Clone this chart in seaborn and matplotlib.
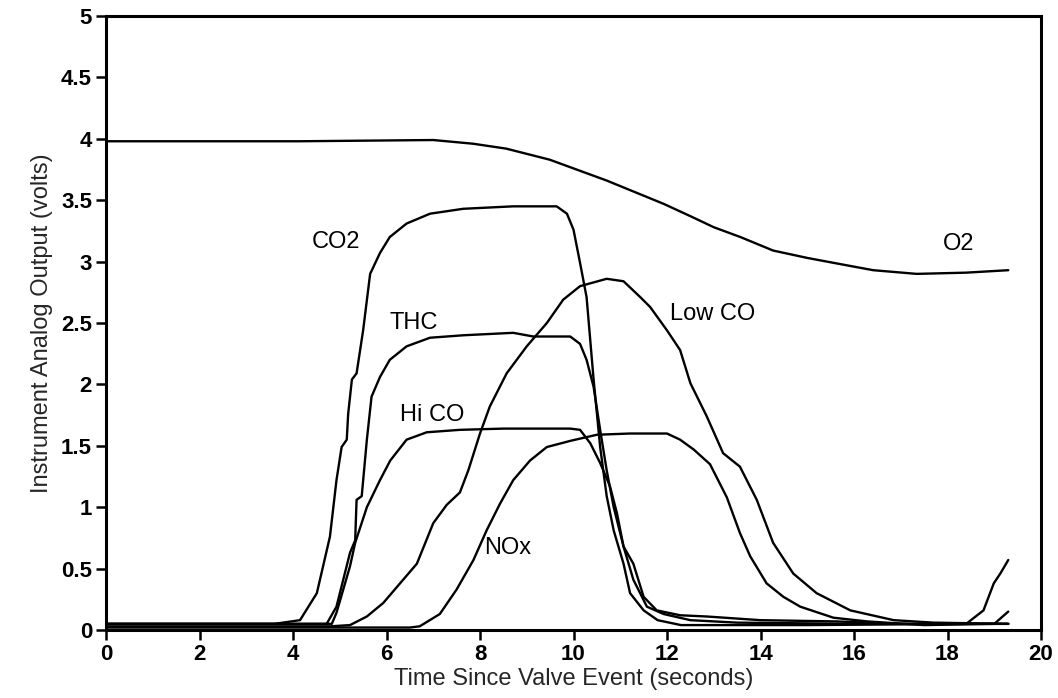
import matplotlib
matplotlib.use("Agg")
import matplotlib.pyplot as plt
import seaborn as sns
import pandas as pd

# ---- data ----
co2_t = [0, 3.6, 4.15, 4.51, 4.79, 4.93, 5.04, 5.15, 5.18, 5.26, 5.36, 5.5, 5.65, 5.86, 6.07, 6.43,
         6.93, 7.64, 8.71, 9.64, 9.86, 10.0, 10.14, 10.28, 10.43, 10.57, 10.71, 10.86, 11.07, 11.21,
         11.5, 11.8, 12.3, 15.0, 18.4, 18.77, 18.99, 19.13, 19.3]
co2_v = [0.05, 0.05, 0.08, 0.30, 0.76, 1.22, 1.49, 1.55, 1.76, 2.04, 2.09, 2.44, 2.90, 3.07, 3.20, 3.31,
         3.39, 3.43, 3.45, 3.45, 3.39, 3.26, 2.99, 2.71, 2.04, 1.49, 1.09, 0.81, 0.54, 0.30,
         0.16, 0.08, 0.04, 0.04, 0.05, 0.16, 0.38, 0.46, 0.57]

thc_t = [0, 4.6, 4.72, 4.93, 5.22, 5.33, 5.36, 5.47, 5.58, 5.68, 5.86, 6.07, 6.43, 6.93, 7.64, 8.71,
         9.14, 9.93, 10.14, 10.28, 10.43, 10.57, 10.71, 10.86, 11.07, 11.28, 11.5, 11.78, 12.28,
         12.85, 14.0, 15.6, 17.0, 19.3]
thc_v = [0.05, 0.05, 0.05, 0.19, 0.63, 0.73, 1.06, 1.09, 1.55, 1.90, 2.06, 2.20, 2.31, 2.38, 2.40, 2.42,
         2.39, 2.39, 2.33, 2.20, 1.98, 1.63, 1.30, 1.00, 0.68, 0.54, 0.27, 0.16, 0.12,
         0.11, 0.08, 0.07, 0.05, 0.05]

hico_t = [0, 4.7, 4.83, 4.93, 5.22, 5.33, 5.58, 5.86, 6.08, 6.43, 6.86, 7.57, 8.5, 9.93, 10.14,
          10.36, 10.57, 10.78, 10.93, 11.07, 11.28, 11.57, 11.93, 12.5, 13.5, 16.0, 19.3]
hico_v = [0.05, 0.05, 0.05, 0.14, 0.52, 0.71, 1.00, 1.22, 1.38, 1.55, 1.61, 1.63, 1.64, 1.64, 1.63,
          1.52, 1.36, 1.17, 0.95, 0.68, 0.41, 0.19, 0.13, 0.08, 0.06, 0.05, 0.05]

lowco_t = [0, 4.8, 5.22, 5.58, 5.93, 6.29, 6.65, 7.0, 7.29, 7.57, 7.75, 8.0, 8.21, 8.57, 9.0, 9.43,
           9.78, 10.14, 10.71, 11.07, 11.43, 11.64, 12.0, 12.28, 12.5, 12.85, 13.2, 13.56, 13.92,
           14.27, 14.7, 15.2, 15.92, 16.85, 17.7, 19.3]
lowco_v = [0.03, 0.03, 0.04, 0.11, 0.22, 0.38, 0.54, 0.87, 1.02, 1.12, 1.30, 1.60, 1.82, 2.09, 2.31, 2.50,
           2.69, 2.80, 2.86, 2.84, 2.71, 2.63, 2.44, 2.28, 2.01, 1.74, 1.44, 1.33, 1.06,
           0.71, 0.46, 0.30, 0.16, 0.08, 0.06, 0.05]

nox_t = [0, 6.5, 6.71, 7.14, 7.5, 7.86, 8.14, 8.43, 8.71, 9.07, 9.43, 9.93, 10.5, 11.21, 12.0, 12.28,
         12.57, 12.92, 13.28, 13.56, 13.78, 14.13, 14.49, 14.85, 15.56, 16.28, 17.5, 19.0, 19.3]
nox_v = [0.02, 0.02, 0.03, 0.13, 0.33, 0.57, 0.81, 1.03, 1.22, 1.38, 1.49, 1.54, 1.59, 1.60, 1.60, 1.55,
         1.47, 1.35, 1.08, 0.79, 0.60, 0.38, 0.27, 0.19, 0.10, 0.07, 0.04, 0.05, 0.15]

o2_t = [0, 4.15, 7.0, 7.85, 8.56, 9.49, 10.71, 11.93, 12.5, 13.0, 13.57, 14.27, 15.0, 15.56, 16.41,
        17.34, 18.4, 19.3]
o2_v = [3.98, 3.98, 3.99, 3.96, 3.92, 3.83, 3.66, 3.47, 3.37, 3.28, 3.20, 3.09, 3.03, 2.99, 2.93,
        2.90, 2.91, 2.93]

series_names = ["CO2", "THC", "Hi CO", "Low CO", "NOx", "O2"]
label_x = [4.4, 6.07, 6.29, 12.06, 8.09, 17.9]
label_y = [3.16, 2.50, 1.75, 2.57, 0.67, 3.14]

x_ticks = [0, 2, 4, 6, 8, 10, 12, 14, 16, 18, 20]
y_ticks = [0, 0.5, 1, 1.5, 2, 2.5, 3, 3.5, 4, 4.5, 5]
y_tick_labels = ["0", "0.5", "1", "1.5", "2", "2.5", "3", "3.5", "4", "4.5", "5"]

# ---- build long-form table ----
frames = []
for name, t, v in zip(series_names,
                      [co2_t, thc_t, hico_t, lowco_t, nox_t, o2_t],
                      [co2_v, thc_v, hico_v, lowco_v, nox_v, o2_v]):
    frames.append(pd.DataFrame({"time": t, "value": v, "series": name}))
df = pd.concat(frames, ignore_index=True)

sns.set_style("ticks")
plt.rcParams["font.family"] = ["Liberation Sans", "DejaVu Sans"]

fig = plt.figure(figsize=(10.58, 6.98), dpi=100)
ax = fig.add_axes([106 / 1058, (698 - 630) / 698, 935 / 1058, 614 / 698])

sns.lineplot(data=df, x="time", y="value", units="series", estimator=None,
             color="black", linewidth=1.7, ax=ax, sort=False, legend=False)

for name, lx, ly in zip(series_names, label_x, label_y):
    ax.text(lx, ly, name, fontsize=17, ha="left", va="center", color="black")

ax.set_xlim(0, 20)
ax.set_ylim(0, 5)
ax.set_xticks(x_ticks)
ax.set_yticks(y_ticks)
ax.set_yticklabels(y_tick_labels)
ax.tick_params(axis="both", direction="out", length=7, width=1.8, labelsize=16,
               colors="black", pad=3)
for lab in ax.get_xticklabels() + ax.get_yticklabels():
    lab.set_fontweight("bold")
for sp in ax.spines.values():
    sp.set_visible(True)
    sp.set_linewidth(2.2)
    sp.set_color("black")

ax.set_xlabel("Time Since Valve Event (seconds)", fontsize=17, labelpad=2)
ax.set_ylabel("Instrument Analog Output (volts)", fontsize=17, labelpad=6)

fig.savefig("out.png", dpi=100, facecolor="white")
